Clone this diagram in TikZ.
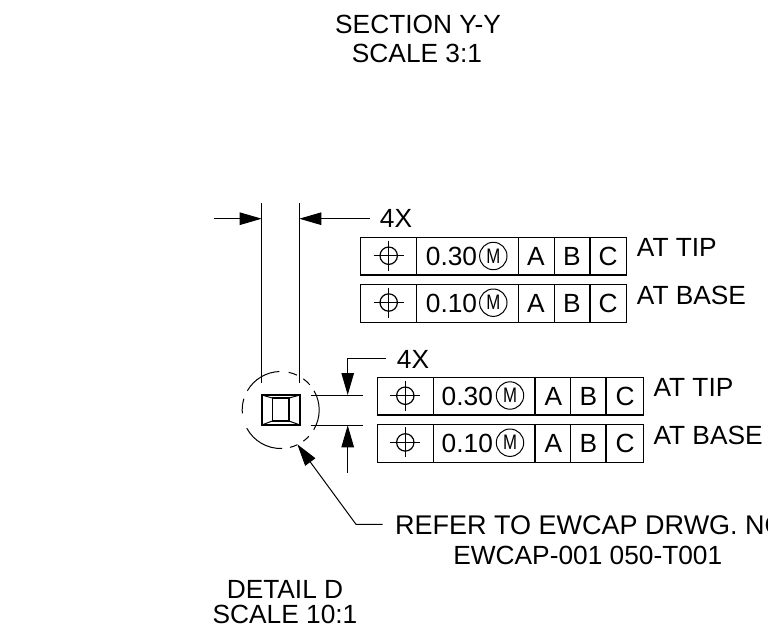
\documentclass[tikz,border=0pt]{standalone}
\usepackage{fontspec}
\setmainfont{Liberation Sans}
\usetikzlibrary{arrows.meta}
\tikzstyle{lbl}=[inner sep=0pt,font=\fontsize{26.3}{28}\selectfont]
\tikzstyle{ln}=[line width=1pt,black]
\tikzstyle{fr}=[line width=1.1pt,black]
\tikzstyle{hd}=[-{Triangle[length=22pt,width=12.5pt]},ln]
\newcommand{\posn}[2]{%
  \draw[ln,line width=1.2pt] (#1,#2) circle (8.7);
  \draw[ln,line width=1.2pt] (#1-15,#2) -- (#1+15,#2);
  \draw[ln,line width=1.2pt] (#1,#2-15) -- (#1,#2+15);
}
\newcommand{\mmc}[2]{%
  \draw[ln] (#1,#2) circle (13.7);
  \node[inner sep=0pt,font=\fontsize{21}{21}\selectfont,xscale=0.8] at (#1,#2) {M};
}
\begin{document}
\begin{tikzpicture}[x=1pt,y=-1pt]
    \useasboundingbox (0,0) rectangle (768,635);
    % titles
    \node [style=lbl] (sect) at (418,24) {SECTION Y-Y};
    \node [style=lbl] (sectsc) at (417,53.5) {SCALE 3:1};
    \node [style=lbl] (det) at (285,589) {DETAIL D};
    \node [style=lbl] (detsc) at (285,614.5) {SCALE 10:1};
    % top dimension
    \coordinate (w1t) at (261.7,203);
    \coordinate (w1b) at (261.7,383);
    \coordinate (w2t) at (299.3,203);
    \coordinate (w2b) at (299.3,383);
    \draw[ln] (w1t) to (w1b);
    \draw[ln] (w2t) to (w2b);
    \coordinate (w1a) at (261.7,218.7);
    \coordinate (w2a) at (299.3,218.7);
    \coordinate (wl) at (214,218.7);
    \coordinate (wr) at (370,218.7);
    \draw[hd] (wl) to (w1a);
    \draw[hd] (wr) to (w2a);
    \node [style=lbl] (fourx) at (396,218) {4X};
    % upper frames
    \draw[fr] (360.7,237.3) rectangle (626.7,275);
    \draw[fr] (360.7,284.7) rectangle (626.7,322.7);
    \foreach \x in {416.7,518.3,554.3,590} {
      \draw[fr] (\x,237.3) -- (\x,275);
      \draw[fr] (\x,284.7) -- (\x,322.7);
    }
    \posn{388.7}{255.7}
    \posn{388.7}{302.5}
    \mmc{493.3}{256}
    \mmc{493.3}{302.7}
    \node [style=lbl] (t1) at (451.5,256.7) {0.30};
    \node [style=lbl] (t2) at (451.5,303.3) {0.10};
    \foreach \x/\t in {536/A,572/B,608/C} {
      \node [style=lbl] at (\x,256.7) {\t};
      \node [style=lbl] at (\x,303.3) {\t};
    }
    \node [style=lbl,anchor=west] (tip1) at (636.7,247.7) {AT TIP};
    \node [style=lbl,anchor=west] (base1) at (636.7,295) {AT BASE};
    % detail
    \coordinate (dc) at (280.7,410);
    \foreach \a/\b in {150/92,78/65,54/41,30/-31,-43/-54,-65/-76,-88/-152,-175/-197} {
      \draw[ln] ([shift={(dc)}]\a:38.5pt) arc [start angle=\a,end angle=\b,radius=38.5pt];
    }
    \draw[line width=1.8pt,black] (261.7,395) rectangle (300,425);
    \draw[line width=1.4pt,black] (272.3,398) rectangle (289,421);
    \draw[ln] (261.7,395) -- (272.3,398);
    \draw[ln] (300,395) -- (289,398);
    \draw[ln] (261.7,425) -- (272.3,421);
    \draw[ln] (300,425) -- (289,421);
    % height dimension
    \coordinate (h1a) at (310.7,395);
    \coordinate (h1b) at (363.3,395);
    \coordinate (h2a) at (310.7,425.3);
    \coordinate (h2b) at (363.3,425.3);
    \draw[ln] (h1a) to (h1b);
    \draw[ln] (h2a) to (h2b);
    \coordinate (hl) at (385.7,358.3);
    \coordinate (hc) at (347.7,358.3);
    \coordinate (ht) at (347.7,395);
    \coordinate (hu) at (347.7,425.3);
    \coordinate (hd) at (347.7,472.7);
    \draw[hd] (hl) -- (hc) -- (ht);
    \draw[hd] (hd) to (hu);
    \node [style=lbl] (fourx2) at (413,359) {4X};
    % lower frames
    \draw[fr] (377.3,377.7) rectangle (643.3,415);
    \draw[fr] (377.3,424.7) rectangle (643.3,462.3);
    \foreach \x in {433.3,535,570.3,606} {
      \draw[fr] (\x,377.7) -- (\x,415);
      \draw[fr] (\x,424.7) -- (\x,462.3);
    }
    \posn{405.3}{395.7}
    \posn{405.3}{442.4}
    \mmc{510}{395.5}
    \mmc{510}{442.7}
    \node [style=lbl] (t3) at (467.3,396.7) {0.30};
    \node [style=lbl] (t4) at (467.3,443.3) {0.10};
    \foreach \x/\t in {553.3/A,588.3/B,625/C} {
      \node [style=lbl] at (\x,396.7) {\t};
      \node [style=lbl] at (\x,443.3) {\t};
    }
    \node [style=lbl,anchor=west] (tip2) at (653.3,387.3) {AT TIP};
    \node [style=lbl,anchor=west] (base2) at (653.3,435) {AT BASE};
    % leader
    \coordinate (ltip) at (297.3,444.3);
    \coordinate (lm) at (356,524.3);
    \coordinate (le) at (382.7,524.3);
    \draw[hd] (le) -- (lm) -- (ltip);
    \begin{scope}
      \clip (0,0) rectangle (768,635);
      \node [style=lbl,anchor=west,font=\fontsize{27}{28}\selectfont] (ref) at (395,525) {REFER TO EWCAP DRWG. NO};
    \end{scope}
    \node [style=lbl] (ref2) at (587.8,555.7) {EWCAP-001 050-T001};
  \end{tikzpicture}
\end{document}
